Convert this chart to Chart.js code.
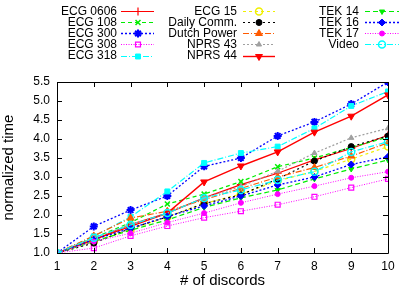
<!DOCTYPE html>
<html>
<head>
<meta charset="utf-8">
<script src="https://cdn.jsdelivr.net/npm/chart.js@4/dist/chart.umd.min.js"></script>
<style>
html,body{margin:0;padding:0;background:#fff;}
#wrap{width:415px;height:290px;}
</style>
</head>
<body>
<div id="wrap"><canvas id="c" width="415" height="290"></canvas></div>
<script>
const discords = [1,2,3,4,5,6,7,8,9,10];
const yTicks = [1,1.5,2,2.5,3,3.5,4,4.5,5,5.5];
const seriesNames = ["ECG 0606","ECG 108","ECG 300","ECG 308","ECG 318","ECG 15","Daily Comm.","Dutch Power","NPRS 43","NPRS 44","TEK 14","TEK 16","TEK 17","Video"];

const ecg0606    = [1, 1.35, 1.75, 2.05, 2.45, 2.80, 3.10, 3.45, 3.75, 4.10];
const ecg108     = [1, 1.40, 1.80, 2.29, 2.55, 2.88, 3.27, 3.50, 3.78, 4.05];
const ecg300     = [1, 1.70, 2.13, 2.50, 3.28, 3.50, 4.08, 4.45, 4.92, 5.50];
const ecg308     = [1, 1.13, 1.45, 1.71, 1.93, 2.10, 2.27, 2.48, 2.72, 2.95];
const ecg318     = [1, 1.44, 1.95, 2.62, 3.37, 3.63, 3.80, 4.28, 4.87, 5.25];
const ecg15      = [1, 1.30, 1.62, 1.95, 2.30, 2.55, 2.90, 3.15, 3.47, 3.80];
const dailyComm  = [1, 1.26, 1.65, 1.95, 2.30, 2.53, 2.95, 3.42, 3.80, 4.08];
const dutchPower = [1, 1.45, 1.92, 2.10, 2.40, 2.70, 3.00, 3.25, 3.55, 3.90];
const nprs43     = [1, 1.40, 1.75, 2.05, 2.45, 2.75, 3.15, 3.63, 4.03, 4.28];
const nprs44     = [1, 1.35, 1.70, 2.05, 2.87, 3.29, 3.66, 4.18, 4.60, 5.16];
const tek14      = [1, 1.30, 1.60, 1.87, 2.20, 2.45, 2.66, 2.95, 3.21, 3.45];
const tek16      = [1, 1.35, 1.65, 1.96, 2.24, 2.50, 2.79, 3.00, 3.33, 3.53];
const tek17      = [1, 1.30, 1.52, 1.80, 2.05, 2.32, 2.55, 2.76, 2.98, 3.14];
const video      = [1, 1.40, 1.74, 2.05, 2.45, 2.66, 2.92, 3.14, 3.66, 3.93];

const seriesValues = [ecg0606, ecg108, ecg300, ecg308, ecg318, ecg15, dailyComm, dutchPower, nprs43, nprs44, tek14, tek16, tek17, video];

const styles = [
  {c:'#ff0000', dash:[],          ps:'cross',    r:4,   fill:true,  bw:1.2, lw:1.2},
  {c:'#00ee00', dash:[4,3],       ps:'crossRot', r:3.5, fill:true,  bw:1.5, lw:1.2},
  {c:'#0000ff', dash:[2,2],       ps:'star',     r:4,   fill:true,  bw:2,   lw:1.3},
  {c:'#ff00ff', dash:[1,1.5],     ps:'rect',     r:3.5, fill:false, bw:1.2, lw:1},
  {c:'#00ffff', dash:[6,2,1,2],   ps:'rect',     r:3.5, fill:true,  bw:1,   lw:1.2},
  {c:'#f0f000', dash:[3,3],       ps:'circle',   r:3.5, fill:false, bw:1.5, lw:1.2},
  {c:'#000000', dash:[2,3],       ps:'circle',   r:3,   fill:true,  bw:1,   lw:1.2},
  {c:'#ff5a00', dash:[6,2,1,2],   ps:'triangle', r:4,   fill:true,  bw:1,   lw:1.2},
  {c:'#a0a0a0', dash:[2,2],       ps:'triangle', r:3,   fill:true,  bw:1,   lw:1.2},
  {c:'#ff0000', dash:[],          ps:'triangle', r:4,   fill:true,  bw:1,   lw:1.4, rot:180},
  {c:'#00ee00', dash:[5,3],       ps:'triangle', r:3,   fill:true,  bw:1,   lw:1.2, rot:180},
  {c:'#0000ff', dash:[2,2],       ps:'rectRot',  r:3.5, fill:true,  bw:1,   lw:1.3},
  {c:'#ff00ff', dash:[1,1.5],     ps:'circle',   r:2.5, fill:true,  bw:1,   lw:1},
  {c:'#00ffff', dash:[6,2,1,2],   ps:'circle',   r:3.5, fill:false, bw:1.5, lw:1.2}
];

const n = seriesNames.length;
const datasets = seriesNames.map((name, i) => {
  const s = styles[i];
  return {
    label: name,
    data: discords.map((x, j) => ({x: x, y: seriesValues[i][j]})),
    borderColor: s.c,
    backgroundColor: s.fill ? s.c : 'rgba(0,0,0,0)',
    borderWidth: s.lw,
    borderDash: s.dash,
    pointStyle: s.ps,
    pointRadius: s.r,
    pointBorderWidth: s.bw,
    pointBackgroundColor: s.fill ? s.c : 'rgba(0,0,0,0)',
    pointBorderColor: s.c,
    pointRotation: s.rot || 0,
    tension: 0,
    fill: false,
    order: n - 1 - i
  };
});

const FONT = '"Liberation Sans", Arial, Helvetica, sans-serif';

const frame = {
  id: 'frame',
  afterDatasetsDraw(chart) {
    const {ctx, chartArea: a, scales} = chart;
    ctx.save();
    ctx.strokeStyle = '#000';
    ctx.lineWidth = 1;
    ctx.setLineDash([]);
    ctx.beginPath();
    ctx.rect(Math.round(a.left) + 0.5, Math.round(a.top) + 0.5, Math.round(a.right - a.left), Math.round(a.bottom - a.top));
    ctx.stroke();
    const tl = 5;
    ctx.beginPath();
    yTicks.forEach(v => {
      const y = Math.round(scales.y.getPixelForValue(v)) + 0.5;
      ctx.moveTo(a.left, y); ctx.lineTo(a.left + tl, y);
      ctx.moveTo(a.right, y); ctx.lineTo(a.right - tl, y);
    });
    discords.forEach(v => {
      const x = Math.round(scales.x.getPixelForValue(v)) + 0.5;
      ctx.moveTo(x, a.bottom); ctx.lineTo(x, a.bottom - tl);
      ctx.moveTo(x, a.top); ctx.lineTo(x, a.top + tl);
    });
    ctx.stroke();
    ctx.restore();
  }
};

const legendCols = [
  {textRight:117, l0:121, l1:154, m:138},
  {textRight:237, l0:243, l1:275, m:259},
  {textRight:359, l0:365, l1:399, m:382}
];
const legendRows = [10.7, 22, 33.2, 44.4, 55.6];

const customLegend = {
  id: 'customLegend',
  afterDraw(chart) {
    const ctx = chart.ctx;
    ctx.save();
    ctx.font = '12px ' + FONT;
    ctx.textAlign = 'right';
    ctx.textBaseline = 'middle';
    chart.data.datasets.forEach((ds, i) => {
      const col = legendCols[Math.floor(i / 5)];
      const y = legendRows[i % 5];
      ctx.fillStyle = '#000';
      ctx.fillText(ds.label, col.textRight, y + 0.5);
      ctx.strokeStyle = ds.borderColor;
      ctx.lineWidth = ds.borderWidth;
      ctx.setLineDash(ds.borderDash);
      ctx.beginPath();
      ctx.moveTo(col.l0, Math.round(y) + 0.5);
      ctx.lineTo(col.l1, Math.round(y) + 0.5);
      ctx.stroke();
      ctx.setLineDash([]);
      ctx.fillStyle = ds.pointBackgroundColor;
      ctx.strokeStyle = ds.pointBorderColor;
      ctx.lineWidth = ds.pointBorderWidth;
      if (Chart.helpers && Chart.helpers.drawPoint) {
        Chart.helpers.drawPoint(ctx, {pointStyle: ds.pointStyle, radius: ds.pointRadius, rotation: ds.pointRotation, borderWidth: ds.pointBorderWidth}, col.m, Math.round(y) + 0.5);
      } else {
        ctx.beginPath();
        ctx.arc(col.m, y, ds.pointRadius, 0, Math.PI * 2);
        ctx.fill(); ctx.stroke();
      }
    });
    ctx.restore();
  }
};

new Chart(document.getElementById('c'), {
  type: 'line',
  data: {datasets},
  options: {
    responsive: false,
    devicePixelRatio: 1,
    animation: false,
    layout: {padding: {top: 82, right: 27, left: 0, bottom: 0}},
    plugins: {legend: {display: false}, tooltip: {enabled: false}},
    scales: {
      x: {
        type: 'linear', min: 1, max: 10,
        afterBuildTicks(scale) { scale.ticks = discords.map(v => ({value: v})); },
        afterFit(scale) { scale.height = 37; },
        grid: {display: false, drawTicks: false},
        border: {display: false},
        ticks: {color: '#000', padding: 6, font: {family: FONT, size: 12}, maxRotation: 0, autoSkip: false},
        title: {display: true, text: '# of discords', color: '#000', font: {family: FONT, size: 15}, padding: {top: 0, bottom: 0}}
      },
      y: {
        type: 'linear', min: 1, max: 5.5,
        afterBuildTicks(scale) { scale.ticks = yTicks.map(v => ({value: v})); },
        afterFit(scale) { scale.width = 57; },
        grid: {display: false, drawTicks: false},
        border: {display: false},
        ticks: {color: '#000', padding: 7, font: {family: FONT, size: 12}, autoSkip: false},
        title: {display: true, text: 'normalized time', color: '#000', font: {family: FONT, size: 15}, padding: {top: 0, bottom: 0}}
      }
    }
  },
  plugins: [frame, customLegend]
});
</script>
</body>
</html>
